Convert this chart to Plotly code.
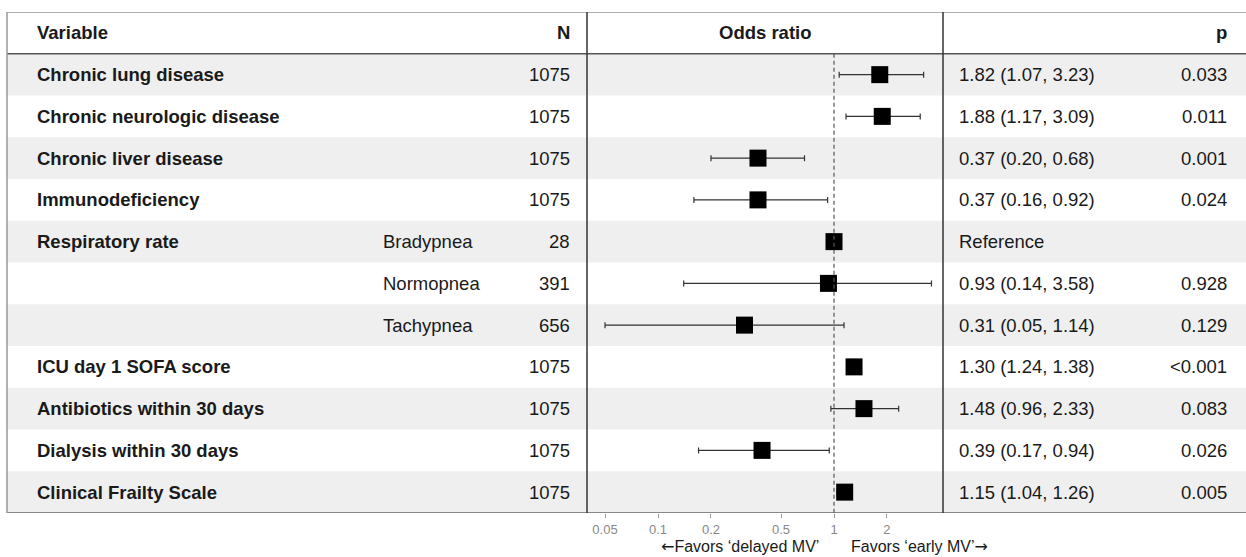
import plotly.graph_objects as go
import numpy as np

# ---------------- data ----------------
variables = ["Chronic lung disease", "Chronic neurologic disease", "Chronic liver disease",
             "Immunodeficiency", "Respiratory rate", "", "", "ICU day 1 SOFA score",
             "Antibiotics within 30 days", "Dialysis within 30 days", "Clinical Frailty Scale"]
levels = ["", "", "", "", "Bradypnea", "Normopnea", "Tachypnea", "", "", "", ""]
n_obs = [1075, 1075, 1075, 1075, 28, 391, 656, 1075, 1075, 1075, 1075]
odds = [1.82, 1.88, 0.37, 0.37, 1.00, 0.93, 0.31, 1.30, 1.48, 0.39, 1.15]
ci_lo = [1.07, 1.17, 0.20, 0.16, None, 0.14, 0.05, 1.24, 0.96, 0.17, 1.04]
ci_hi = [3.23, 3.09, 0.68, 0.92, None, 3.58, 1.14, 1.38, 2.33, 0.94, 1.26]
p_vals = ["0.033", "0.011", "0.001", "0.024", "", "0.928", "0.129", "<0.001", "0.083", "0.026", "0.005"]
tick_vals = [0.05, 0.1, 0.2, 0.5, 1, 2]
tick_text = ["0.05", "0.1", "0.2", "0.5", "1", "2"]
ref_value = 1

# ---------------- layout constants ----------------
W, H = 1246, 557
FONT = "Liberation Sans, Arial, sans-serif"
FS = 18.5
TXT = "#1a1a1a"
rows = list(range(len(variables)))

def px(x):
    return x / W

def py(y):
    return (H - y) / H

est_text = []
for o, l, h in zip(odds, ci_lo, ci_hi):
    if l is None:
        est_text.append("Reference")
    else:
        est_text.append(f"{o:.2f} ({l:.2f}, {h:.2f})")

err_plus = [0 if h is None else h - o for o, h in zip(odds, ci_hi)]
err_minus = [0 if l is None else o - l for o, l in zip(odds, ci_lo)]

fig = go.Figure()
fig.add_trace(go.Scatter(
    x=odds, y=rows, mode="markers",
    marker=dict(symbol="square", size=17, color="black", line=dict(width=0)),
    error_x=dict(type="data", symmetric=False, array=err_plus, arrayminus=err_minus,
                 color="#333333", thickness=1.2, width=3),
    hoverinfo="skip", showlegend=False,
))

shapes = []
# row bands
for i in rows:
    if i % 2 == 0:
        shapes.append(dict(type="rect", xref="paper", yref="y", x0=px(7), x1=1,
                           y0=i - 0.5, y1=i + 0.5, fillcolor="#efefef",
                           line=dict(width=0), layer="below"))
# borders
shapes += [
    dict(type="line", xref="paper", yref="y", x0=px(7), x1=1, y0=-1.5, y1=-1.5,
         line=dict(color="#999999", width=1.5)),
    dict(type="line", xref="paper", yref="y", x0=px(7), x1=1, y0=-0.5, y1=-0.5,
         line=dict(color="#555555", width=1.5)),
    dict(type="line", xref="paper", yref="y", x0=px(7), x1=1, y0=10.5, y1=10.5,
         line=dict(color="#666666", width=1.5)),
    dict(type="line", xref="paper", yref="y", x0=px(7), x1=px(7), y0=-1.5, y1=10.5,
         line=dict(color="#999999", width=1.5)),
    dict(type="line", xref="paper", yref="y", x0=px(587), x1=px(587), y0=-1.5, y1=10.5,
         line=dict(color="#333333", width=1.5)),
    dict(type="line", xref="paper", yref="y", x0=px(943), x1=px(943), y0=-1.5, y1=10.5,
         line=dict(color="#333333", width=1.5)),
    dict(type="line", xref="x", yref="y", x0=ref_value, x1=ref_value, y0=-0.5, y1=10.5,
         line=dict(color="#555555", width=1.2, dash="4px,3px")),
]

ann = []
def add(text, x, y, anchor, bold=False, size=FS, color=TXT, yref="y"):
    ann.append(dict(text=f"<b>{text}</b>" if bold else text, x=x, y=y, xref="paper", yref=yref,
                    xanchor=anchor, yanchor="middle", showarrow=False,
                    font=dict(family=FONT, size=size, color=color)))

# header
add("Variable", px(35), -1, "left", bold=True)
add("N", px(572), -1, "right", bold=True)
add("Odds ratio", px(765), -1, "center", bold=True)
add("p", px(1229), -1, "right", bold=True)

for i in rows:
    if variables[i]:
        add(variables[i], px(35), i, "left", bold=True)
    if levels[i]:
        add(levels[i], px(381), i, "left")
    add(str(n_obs[i]), px(572), i, "right")
    add(est_text[i], px(957), i, "left")
    if p_vals[i]:
        add(p_vals[i], px(1229), i, "right")

# axis caption (annotation x on a log axis is given in log10 units)
ref_log = float(np.log10(ref_value))
arrow_l = '<span style="font-family:DejaVu Sans">\u2190</span>'
arrow_r = '<span style="font-family:DejaVu Sans">\u2192</span>'
ann.append(dict(text=arrow_l + "Favors \u2018delayed MV\u2019", x=ref_log, xref="x",
                y=py(546), yref="paper",
                xanchor="right", yanchor="middle", xshift=-13, showarrow=False,
                font=dict(family=FONT, size=16, color=TXT)))
ann.append(dict(text="Favors \u2018early MV\u2019" + arrow_r, x=ref_log, xref="x",
                y=py(546), yref="paper",
                xanchor="left", yanchor="middle", xshift=15, showarrow=False,
                font=dict(family=FONT, size=16, color=TXT)))

x_lo = (587 - 834) / 176.0
x_hi = (943 - 834) / 176.0

fig.update_layout(
    width=W, height=H, margin=dict(l=0, r=0, t=0, b=0),
    paper_bgcolor="white", plot_bgcolor="rgba(0,0,0,0)",
    shapes=shapes, annotations=ann,
    xaxis=dict(type="log", range=[x_lo, x_hi], domain=[px(587), px(943)],
               tickvals=tick_vals, ticktext=tick_text, ticks="outside", ticklen=4,
               tickcolor="#999999", tickwidth=1.2, showgrid=False, zeroline=False,
               showline=False, tickfont=dict(family=FONT, size=13, color="#888888"),
               fixedrange=True),
    yaxis=dict(range=[10.5, -1.5], domain=[py(513), py(12)], visible=False,
               showgrid=False, zeroline=False, fixedrange=True),
)

fig.write_html(
    "out.html",
    config={"displayModeBar": False},
    post_script="document.body.style.margin='0';document.body.style.overflow='hidden';",
)
